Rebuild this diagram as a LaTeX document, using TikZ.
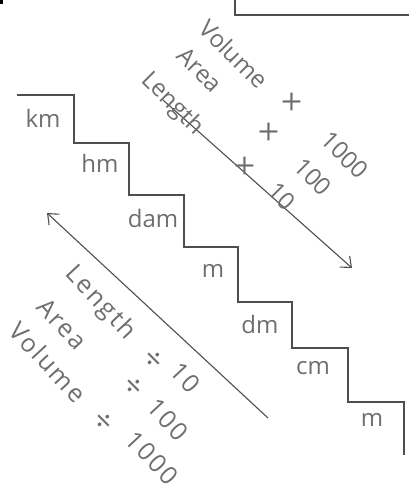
\documentclass[tikz,border=0pt]{standalone}
\usepackage{fontspec}
\setmainfont{Open Sans}
\usetikzlibrary{arrows.meta}
\definecolor{inkc}{HTML}{4E4E4E}
\definecolor{txtc}{HTML}{6E6E6E}
\begin{document}
\begin{tikzpicture}[x=1pt,y=-1pt,
  ink/.style={draw=inkc, line width=1.1pt, line join=miter},
  unit/.style={font=\fontsize{24}{24}\selectfont, text=txtc, inner sep=0pt},
  rot/.style={font=\fontsize{24}{24}\selectfont, text=txtc, inner sep=0pt, rotate=-45},
  rotwide/.style={font=\fontsize{25}{25}\selectfont\addfontfeature{LetterSpace=8}, text=txtc, inner sep=0pt, rotate=-47},
  sym/.style={font=\fontsize{32}{32}\selectfont, text=txtc, inner sep=0pt, rotate=-45},
  barb/.style={-{Straight Barb[length=9pt,width=15pt,line width=1.1pt]}}]
\useasboundingbox (0,0) rectangle (409,486);
% corner marks
\fill[black] (0,0) rectangle (3,4);
\draw[ink] (235,0) -- (235,15) -- (409,15);
% staircase
\draw[ink] (17,95) -- (74,95) -- (74,143) -- (129,143) -- (129,195) -- (184,195)
  -- (184,247) -- (238,247) -- (238,302) -- (292,302) -- (292,348) -- (348,348)
  -- (348,402) -- (404,402) -- (404,455);
% unit labels
\node[unit] (km) at (43,118) {km};
\node[unit] (hm) at (100,163) {hm};
\node[unit] (dam) at (153,218) {dam};
\node[unit] (m) at (213,271) {m};
\node[unit] (dm) at (260,324) {dm};
\node[unit] (cm) at (313,368) {cm};
\node[unit] (mm) at (372,420) {m};
% arrows
\coordinate (u1) at (163,100);
\coordinate (u2) at (352,268);
\coordinate (l1) at (268,418);
\coordinate (l2) at (47,213);
\draw[ink,barb] (u1) -- (u2);
\draw[ink,barb] (l1) -- (l2);
% upper texts (multiply)
\node[rot] (uvol) at (234,54) {Volume};
\node[sym] (uvolx) at (290,103) {×};
\node[rot] (uvoln) at (345,155) {1000};
\node[rot] (uarea) at (200,70) {Area};
\node[sym] (uareax) at (267,133) {×};
\node[rot] (uarean) at (313,177) {100};
\node[rot] (ulen) at (172,104) {Length};
\node[sym] (ulenx) at (243,167) {×};
\node[rot] (ulenn) at (282,196) {10};
% lower texts (divide)
\node[rotwide] (llen) at (100,303) {Length};
\node[sym] (llenx) at (153,360) {÷};
\node[rotwide] (llenn) at (185,378) {10};
\node[rotwide] (larea) at (62,324) {Area};
\node[sym] (lareax) at (133,387) {÷};
\node[rotwide] (larean) at (168,420) {100};
\node[rotwide] (lvol) at (48,362) {Volume};
\node[sym] (lvolx) at (103,422) {÷};
\node[rotwide] (lvoln) at (152,458) {1000};
\end{tikzpicture}
\end{document}
